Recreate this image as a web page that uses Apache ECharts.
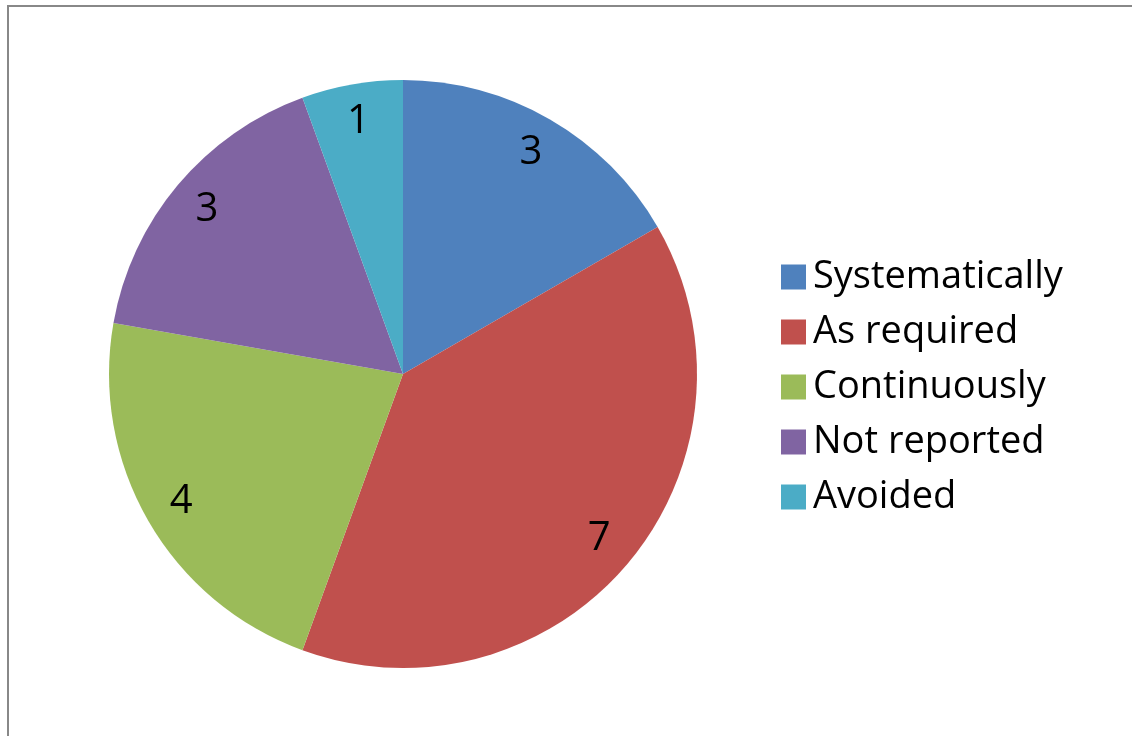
<!DOCTYPE html>
<html>
<head>
<meta charset="utf-8">
<script src="https://cdn.jsdelivr.net/npm/echarts@6/dist/echarts.min.js"></script>
<style>
  html, body { margin: 0; padding: 0; background: #fff; }
  #chart { width: 1132px; height: 736px; }
</style>
</head>
<body>
<div id="chart"></div>
<script>
// Reporting frequency categories and their counts
const categories = ['Systematically', 'As required', 'Continuously', 'Not reported', 'Avoided'];
const counts = [3, 7, 4, 3, 1];
const colors = ['#4F81BD', '#C0504D', '#9BBB59', '#8064A2', '#4BACC6'];

const FONT = '"Open Sans", Lato, sans-serif';
const CX = 403, CY = 374, R = 294;

const pieData = categories.map((name, i) => ({ name, value: counts[i] }));

const chart = echarts.init(document.getElementById('chart'), null, { renderer: 'canvas' });
chart.setOption({
  backgroundColor: '#ffffff',
  animation: false,
  color: colors,
  graphic: [{
    type: 'rect',
    shape: { x: 8, y: 6, width: 1300, height: 900 },
    style: { fill: 'none', stroke: '#888888', lineWidth: 2 },
    silent: true,
    z: -10
  }],
  legend: {
    orient: 'vertical',
    left: 776,
    top: 253,
    itemWidth: 25,
    itemHeight: 25,
    itemGap: 17,
    icon: 'rect',
    data: categories,
    textStyle: {
      fontFamily: FONT,
      fontSize: 38,
      color: '#000',
      padding: [0, 0, 0, 2]
    }
  },
  series: [
    {
      type: 'pie',
      center: [CX, CY],
      radius: [0, R],
      startAngle: 90,
      clockwise: true,
      data: pieData,
      label: { show: false },
      labelLine: { show: false },
      itemStyle: { borderWidth: 0 },
      emphasis: { disabled: true }
    },
    {
      // transparent ring used only to place the value labels near the rim
      type: 'pie',
      center: [CX, CY],
      radius: [212, R],
      startAngle: 90,
      clockwise: true,
      data: pieData,
      silent: true,
      legendHoverLink: false,
      itemStyle: { color: 'rgba(0,0,0,0)', borderWidth: 0 },
      label: {
        show: true,
        position: 'inside',
        formatter: '{c}',
        fontFamily: FONT,
        fontSize: 40,
        color: '#000'
      },
      labelLine: { show: false },
      emphasis: { disabled: true }
    }
  ]
});
</script>
</body>
</html>
